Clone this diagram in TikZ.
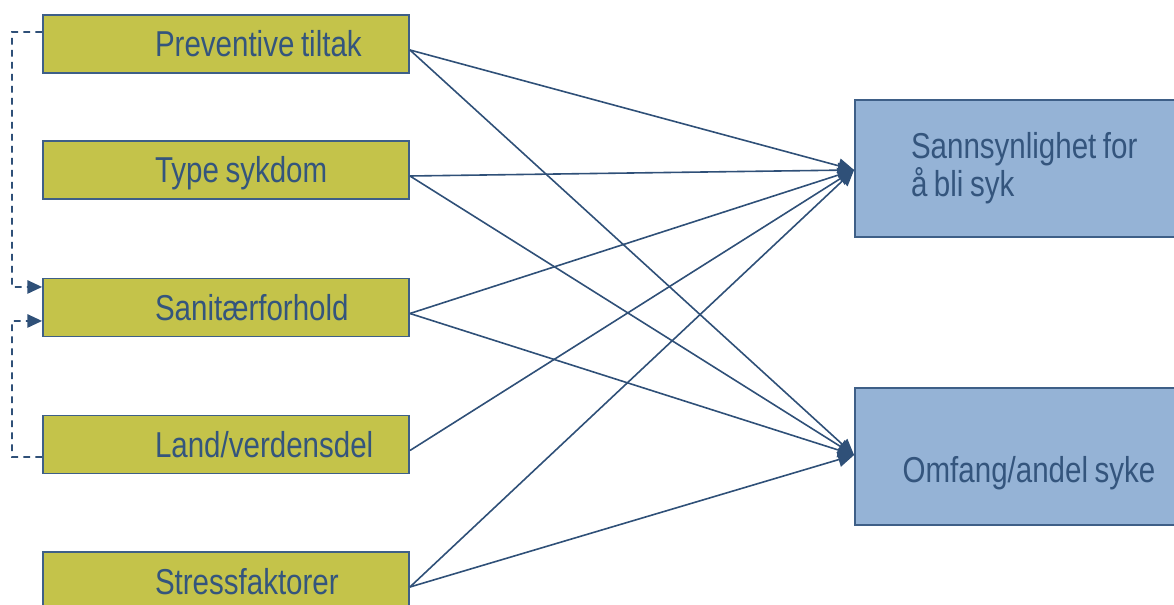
\documentclass[tikz,border=0pt]{standalone}
\usepackage{fontspec}
\setmainfont[FakeStretch=0.82,WordSpace=0.8]{Liberation Sans}
\usetikzlibrary{arrows.meta}

\definecolor{olivefill}{RGB}{196,195,74}
\definecolor{bluefill}{RGB}{149,179,214}
\definecolor{boxline}{RGB}{62,95,135}
\definecolor{arrowline}{RGB}{47,80,120}
\definecolor{labeltext}{RGB}{52,85,125}

\tikzset{
  factor/.style={draw=boxline, line width=1.4pt, fill=olivefill, text=labeltext,
    font=\fontsize{27pt}{28.5pt}\selectfont, inner xsep=0pt, text width=274.5pt,
    align=flush left, minimum height=43.5pt, text height=19.5pt, text depth=0pt,
    execute at begin node={\hspace*{84pt}}},
  outcome/.style={draw=boxline, line width=1.4pt, fill=bluefill, text=labeltext,
    font=\fontsize{27pt}{28.5pt}\selectfont, align=left,
    minimum width=261pt, minimum height=102.75pt},
  effect/.style={draw=arrowline, line width=1.2pt, -{Triangle[length=12pt,width=11pt]}},
  feedback/.style={draw=arrowline, line width=1.2pt, dash pattern=on 5pt off 4pt,
    -{Triangle[length=11pt,width=10pt]}}
}

\begin{document}
\begin{tikzpicture}[x=0.75pt,y=0.75pt,yscale=-1,xscale=1]

\useasboundingbox (0,0) rectangle (1174,605);
\clip (0,0) rectangle (1174,605);

% factors
\node[factor] (prev) at (226,44) {Preventive tiltak};
\node[factor] (type) at (226,170) {Type sykdom};
\node[factor] (sani) at (226,307.5) {Sanitærforhold};
\node[factor] (land) at (226,444.5) {Land/verdensdel};
\node[factor] (stress) at (226,581) {Stressfaktorer};

% outcomes
\node[outcome, inner xsep=0pt, text width=255pt, align=flush left] (sann) at (1029,168.5)
  {\hspace*{39pt}Sannsynlighet for\\\hspace*{39pt}å bli syk};
\node[outcome, text height=39.75pt, text depth=0pt] (omf) at (1029,456.5) {Omfang/andel syke};

% effects
\foreach \f in {prev,type,sani,land,stress}
  \draw[effect] ([yshift=4.5pt]\f.east) -- ([yshift=1.1pt]sann.west);
\foreach \f in {prev,type,sani,stress}
  \draw[effect] ([yshift=4.5pt]\f.east) -- ([yshift=-1.1pt]omf.west);

% feedback
\coordinate (c1) at (12,32);
\coordinate (c2) at (12,287);
\coordinate (c3) at (12,321);
\coordinate (c4) at (12,457);
\draw[feedback] ([yshift=-9pt]prev.west) -- (c1) -- (c2) -- ([yshift=-15.4pt]sani.west);
\draw[feedback] ([yshift=9.4pt]land.west) -- (c4) -- (c3) -- ([yshift=10.1pt]sani.west);

\end{tikzpicture}
\end{document}
